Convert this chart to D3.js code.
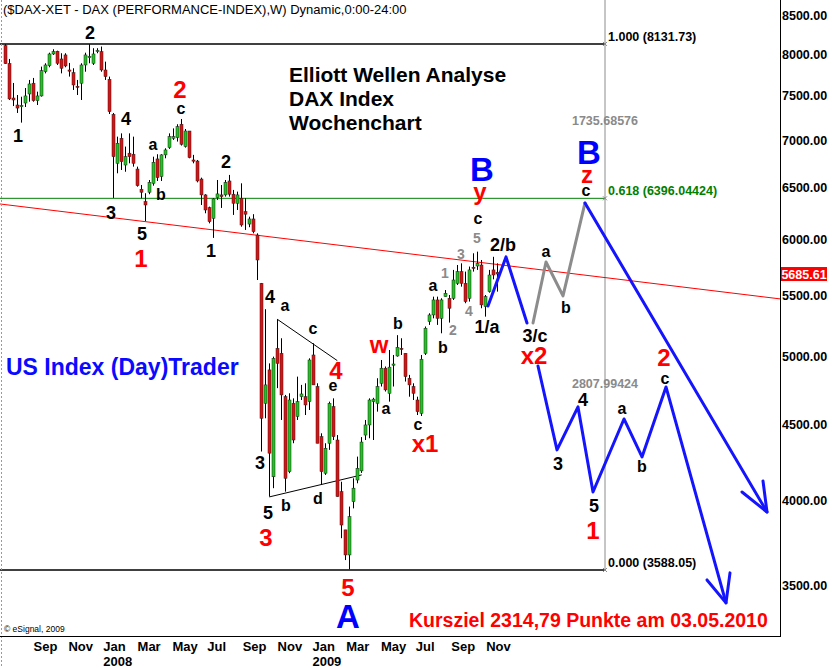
<!DOCTYPE html>
<html><head><meta charset="utf-8">
<script src="https://cdn.jsdelivr.net/npm/d3@7"></script>
<style>body{margin:0;background:#fff}svg{display:block}</style>
</head><body>
<svg id="c" width="832" height="668"></svg>
<script>
// ---------- DATA ----------
const firstWeek = "2007-07-13"; // weekly candles, one per week
const opens = [8110,7889,7476,7395,7378,7418,7523,7650,7445,7500,
7788,7861,8006,8040,7944,7994,7809,7776,7614,7650,
7870,7969,7891,8047,8035,7809,7697,7288,6754,7022,
6736,6861,6850,6694,6487,6363,6457,6547,6800,6616,
6843,6921,7022,7029,7177,6932,7102,6789,6778,6591,
6430,6304,6200,6403,6430,6430,6571,6437,6347,6397,
6265,6145,6194,6041,5604,4650,4898,4148,5065,5026,
4698,4181,4650,4555,4698,4698,4662,5013,4773,4415,
4171,4370,4626,4392,4053,3819,3673,3990,4127,4186,
4426,4496,4662,4650,4797,4911,4723,4935,5005,5065,
5026,4835,4773,4674,4578,5026,5280,5335,5461,5307,
5489,5475,5475,5604,5707,5604,5475,5746,5757,5766,
5405,5532,5722,5700];
const highs = [8128,7944,7653,7511,7491,7593,7689,7713,7550,7850,
7891,8022,8065,8047,8015,8015,7895,7830,7689,7891,
8022,8128,8078,8078,8099,7911,7729,7304,7040,7076,
6932,7076,7040,6719,6530,6447,6581,6824,6850,6850,
6914,7076,7131,7177,7236,7124,7102,6843,6789,6605,
6437,6314,6397,6581,6530,6581,6633,6480,6463,6547,
6397,6216,6240,6057,5607,5383,4948,5000,5300,5145,
4711,4723,4686,4847,4785,4797,4987,5105,4797,4438,
4370,4662,4686,4426,4116,3819,3960,4138,4280,4412,
4531,4686,4690,4835,4974,4924,5052,5013,5170,5145,
5026,4860,4797,4698,5013,5240,5349,5489,5489,5475,
5546,5503,5722,5766,5781,5707,5752,5872,5887,5811,
5503,5722,5840,5781];
const lows = [7883,7453,7383,7304,7195,7372,7433,7433,7395,7492,
7768,7842,7994,7870,7768,7842,7729,7570,7511,7453,
7788,7891,7870,8015,7788,7689,7292,6400,6650,6684,
6666,6754,6719,6513,6397,6174,6437,6523,6571,6571,
6807,6907,7004,6986,6943,6921,6807,6754,6557,6330,
6249,6152,6014,6380,6301,6413,6413,6233,6281,6120,
6089,6115,6057,5633,4314,4543,4022,4075,4761,4531,
4053,4171,4370,4531,4674,4566,4602,4785,4370,4095,
4160,4325,4392,4022,3770,3644,3592,3949,4106,4173,
4392,4404,4392,4590,4773,4736,4662,4773,5000,5013,
4810,4698,4674,4566,4559,5013,5253,5307,5253,5185,
5489,5272,5461,5590,5575,5433,5447,5707,5722,5391,
5321,5523,5639,5532];
const closes = [7886,7465,7453,7360,7389,7500,7641,7445,7500,7800,
7870,8006,8035,7891,7830,7858,7803,7629,7605,7870,
7994,7975,8006,8050,7809,7729,7319,6824,6968,6771,
6824,6824,6754,6523,6457,6330,6557,6765,6605,6843,
6896,7040,7040,7150,6957,7102,6814,6778,6571,6430,
6281,6168,6390,6440,6413,6557,6437,6347,6430,6136,
6240,6194,6073,5811,4543,4785,4303,4987,4948,4711,
4138,4674,4392,4662,4718,4638,4974,4785,4370,4181,
4336,4650,4415,4022,3848,3673,3898,4075,4203,4378,
4496,4674,4680,4773,4911,4748,4919,4943,5073,5057,
4847,4785,4723,4590,4980,5226,5335,5461,5307,5461,
5518,5391,5633,5707,5604,5447,5722,5742,5781,5419,
5489,5677,5677,5685.61];
const lastPrice = 5685.61;
const yTicks = [8500,8000,7500,7000,6500,6000,5500,5000,4500,4000,3500];
const fibHigh = 8131.73, fibLow = 3588.05;
const fibRatios = [1.000, 0.618, 0.000];
const fibEndWeek = 150;
// chart lines, points as [week since first candle, price]
const trendLine = [[-1.25,6340],[193.75,5470]];
const triangleUpper = [[68.08,5299],[83.08,4969]];
const triangleLower = [[66.08,4020],[89.18,4160]];
const projBlue1 = [[120.75,5410],[125.25,5839],[130.5,5269]];
const projGray = [[132,5269],[135.25,5793],[139.5,5495],[145,6350]];
const projBlue2 = [[145,6350],[190.5,3927]];
const projBlue2Head = [[184.25,4051],[190.5,3927],[189.5,4121]];
const projBlue3 = [[133.25,4928],[138,4325],[143.25,4624],[147,4051],[154.75,4538],[159.25,4278],[165.25,4770],[180.25,3409]];
const projBlue3Head = [[175.5,3533],[180.25,3409],[181.25,3572]];
// wave labels: [text, week, price, kind]
const waveLabels = [
 ["2",21.25,8272,"n"],["1",3.25,7048,"n"],["4",30.25,7236,"n"],["a",37,6938,"l"],
 ["c",44,7338,"l"],["b",39,6440,"l"],["2",55.25,6769,"n"],["3",26.5,6252,"n"],
 ["5",34.25,6051,"n"],["1",34,5829,"r"],["1",51.5,5893,"n"],["2",43.75,7582,"r"],
 ["4",66.25,5487,"n"],["a",70,5402,"l"],["c",77,5212,"l"],["4",82.75,4898,"r"],
 ["e",82,4770,"l"],["w",93.5,5076,"r"],["b",98.25,5269,"l"],["a",95.25,4602,"l"],
 ["c",103.25,4489,"l"],["x1",105,4366,"r"],["3",63.75,4238,"n"],["5",65.75,3921,"n"],
 ["3",65.25,3772,"r"],["b",70.25,3970,"l"],["d",78.25,4014,"l"],["5",85.75,3494,"r"],
 ["A",85.75,3341,"B"],["B",119.25,6696,"B"],["y",118.75,6419,"r"],["c",118.25,6184,"l"],
 ["B",146,6874,"B"],["z",145.5,6612,"r"],["c",145.25,6460,"l"],
 ["5",118,6014,"g"],["3",114,5866,"g"],["1",110,5695,"g"],["4",116,5368,"g"],["2",112,5212,"g"],
 ["a",107,5572,"l"],["b",109.5,5076,"l"],["2/b",124.5,5948,"n"],["1/a",120.5,5237,"n"],
 ["a",135.25,5875,"l"],["b",140.25,5402,"l"],["3/c",132.5,5171,"n"],["x2",132.25,5013,"r"],
 ["4",144.5,4674,"n"],["3",138.25,4231,"n"],["a",154.25,4602,"l"],["b",159.25,4218,"l"],
 ["c",165,4822,"l"],["2",164.75,4998,"r"],["5",147.25,3964,"n"],["1",147,3819,"r"]
];
const titleText = "($DAX-XET - DAX (PERFORMANCE-INDEX),W) Dynamic,0:00-24:00";
const headLines = ["Elliott Wellen Analyse","DAX Index","Wochenchart"];
const brandText = "US Index (Day)Trader";
const targetText = "Kursziel 2314,79 Punkte am 03.05.2010";
const copyText = "\u00a9 eSignal, 2009";

// ---------- CHART ----------
const FONT = "'Liberation Sans', Arial, Helvetica, sans-serif";
const svg = d3.select("#c");
svg.append("rect").attr("width",832).attr("height",668).attr("fill","#fff");

const start = d3.utcParse("%Y-%m-%d")(firstWeek);
const weekDate = w => new Date(start.getTime() + w*7*86400000);
const x = d3.scaleUtc().domain([start, weekDate(opens.length-1)]).range([5, 497]);
const y = d3.scaleLog().domain([3238, 8707]).range([636, 0]);
const px = p => [x(weekDate(p[0])), y(p[1])];

svg.append("defs").append("clipPath").attr("id","plot")
  .append("rect").attr("x",0).attr("y",0).attr("width",780).attr("height",636);
const plot = svg.append("g").attr("clip-path","url(#plot)");

// frame
svg.append("line").attr("x1",1.5).attr("x2",1.5).attr("y1",0).attr("y2",668)
  .attr("stroke","#9a9a9a").attr("stroke-dasharray","2,2");
svg.append("line").attr("x1",780.5).attr("x2",780.5).attr("y1",0).attr("y2",636.5).attr("stroke","#000");
svg.append("line").attr("x1",0).attr("x2",781).attr("y1",636.5).attr("y2",636.5).attr("stroke","#000");

// fib tool
const fibX = x(weekDate(fibEndWeek));
const fibPrice = r => fibLow + r*(fibHigh-fibLow);
const fibColor = r => (r===0.618 ? "#008000" : "#000");
fibRatios.forEach(r => {
  const yy = y(fibPrice(r));
  plot.append("line").attr("x1",0).attr("x2",fibX).attr("y1",yy).attr("y2",yy)
    .attr("stroke",fibColor(r)).attr("stroke-width", r===0.618?1:1.5);
  svg.append("text").attr("x",fibX+3).attr("y",yy-3).attr("font-family",FONT)
    .attr("font-size",12.5).attr("font-weight","bold").attr("fill",fibColor(r))
    .text(d3.format(".3f")(r)+" ("+(r===0.618?d3.format(".5f")(fibPrice(r)):d3.format(".2f")(fibPrice(r)))+")");
  svg.append("path").attr("d",`M${fibX-2},${yy-2}L${fibX+2},${yy+2}M${fibX+2},${yy-2}L${fibX-2},${yy+2}`)
    .attr("stroke","#888").attr("stroke-width",1);
});
plot.append("line").attr("x1",fibX).attr("x2",fibX).attr("y1",0).attr("y2",y(fibLow))
  .attr("stroke","#8c8c8c").attr("stroke-width",1);
for (let k=0;k<fibRatios.length-1;k++){
  const a=fibPrice(fibRatios[k]), b=fibPrice(fibRatios[k+1]);
  svg.append("text").attr("x",fibX).attr("y",(y(a)+y(b))/2+4).attr("text-anchor","middle")
    .attr("font-family",FONT).attr("font-size",12.5).attr("font-weight","bold").attr("fill","#8a8a8a")
    .text(d3.format(".5f")(a-b));
}

// trend line
const line = d3.line().x(d=>px(d)[0]).y(d=>px(d)[1]);
plot.append("path").attr("d",line(trendLine)).attr("stroke","#ff0000").attr("stroke-width",1).attr("fill","none");

// triangle
[triangleUpper, triangleLower].forEach(t=>plot.append("path").attr("d",line(t))
  .attr("stroke","#000").attr("stroke-width",1).attr("fill","none"));

// candles
const cg = plot.append("g");
opens.forEach((o,i)=>{
  const cx = Math.round(x(weekDate(i)));
  const c = closes[i];
  cg.append("line").attr("x1",cx+0.5).attr("x2",cx+0.5).attr("y1",y(highs[i])).attr("y2",y(lows[i]))
    .attr("stroke","#000").attr("stroke-width",1);
  const top = y(Math.max(o,c)), bot = y(Math.min(o,c));
  cg.append("rect").attr("x",cx-1).attr("y",top).attr("width",3).attr("height",Math.max(1.2,bot-top))
    .attr("fill", c>=o ? "#22c322" : "#e01010").attr("stroke","#202020").attr("stroke-width",0.5);
});

// projections
const proj = (pts,col) => plot.append("path").attr("d",line(pts)).attr("stroke",col).attr("stroke-width",3)
  .attr("fill","none").attr("stroke-linejoin","round").attr("stroke-linecap","round");
proj(projBlue1,"#1414ff");
proj(projGray,"#8c8c8c");
proj(projBlue2,"#1414ff");
proj(projBlue2Head,"#1414ff");
proj(projBlue3,"#1414ff");
proj(projBlue3Head,"#1414ff");

// right axis labels
yTicks.forEach(v=>svg.append("text").attr("x",782).attr("y",y(v)).attr("dy","0.36em")
  .attr("font-family",FONT).attr("font-size",12.5).attr("font-weight","bold").attr("fill","#000")
  .text(d3.format(".2f")(v)));
const ly = y(lastPrice);
svg.append("rect").attr("x",781).attr("y",ly-7).attr("width",46).attr("height",14).attr("fill","#ff0000");
svg.append("text").attr("x",804).attr("y",ly).attr("dy","0.36em").attr("text-anchor","middle")
  .attr("font-family",FONT).attr("font-size",12.5).attr("font-weight","bold").attr("fill","#fff")
  .text(d3.format(".2f")(lastPrice));

// time axis labels
const months = d3.utcMonth.every(2).range(new Date(Date.UTC(2007,8,1)), new Date(Date.UTC(2009,11,1)));
months.forEach(m=>{
  svg.append("text").attr("x",x(m)).attr("y",651).attr("font-family",FONT).attr("font-size",13)
    .attr("font-weight","bold").attr("fill","#000").text(d3.utcFormat("%b")(m));
  if (m.getUTCMonth()===0) svg.append("text").attr("x",x(m)).attr("y",666).attr("font-family",FONT)
    .attr("font-size",13).attr("font-weight","bold").attr("fill","#000").text(d3.utcFormat("%Y")(m));
});

// wave labels
const kindStyle = {n:{s:18,c:"#000"}, l:{s:16,c:"#000"}, r:{s:24,c:"#ff0000"}, g:{s:14,c:"#8a8a8a"}, B:{s:33,c:"#0000ff"}};
const off = t => /^[acemnorsuvwxz]$/.test(t) ? 0.26 : (t==="y" ? 0.155 : 0.36);
waveLabels.forEach(([t,w,p,k])=>{
  const st = kindStyle[k]; const [xx,yy] = px([w,p]);
  svg.append("text").attr("x",xx).attr("y",yy + off(t)*st.s).attr("text-anchor","middle")
    .attr("font-family",FONT).attr("font-size",st.s).attr("font-weight","bold").attr("fill",st.c).text(t);
});

// texts
svg.append("text").attr("x",3).attr("y",14).attr("font-family",FONT).attr("font-size",13).attr("fill","#000").text(titleText);
headLines.forEach((t,i)=>svg.append("text").attr("x",289).attr("y",82+i*24).attr("font-family",FONT)
  .attr("font-size",21).attr("font-weight","bold").attr("fill","#000").text(t));
svg.append("text").attr("x",6).attr("y",375).attr("font-family",FONT).attr("font-size",23)
  .attr("font-weight","bold").attr("fill","#0a0aff").text(brandText);
svg.append("text").attr("x",409).attr("y",627).attr("font-family",FONT).attr("font-size",19.5)
  .attr("font-weight","bold").attr("fill","#ff0000").text(targetText);
svg.append("text").attr("x",4).attr("y",632).attr("font-family",FONT).attr("font-size",8.5)
  .attr("fill","#000").text(copyText);
</script>
</body></html>
